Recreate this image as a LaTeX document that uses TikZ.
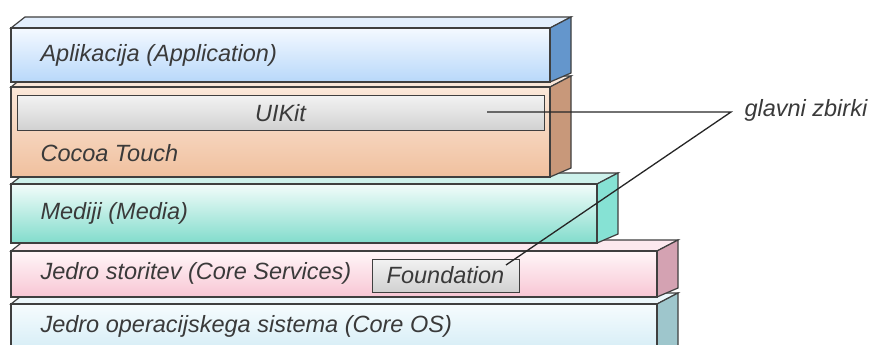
\documentclass[tikz,border=0pt]{standalone}
\usepackage{fontspec}
\setmainfont{Liberation Sans}
\usetikzlibrary{calc}
\definecolor{edgegray}{HTML}{3F3F3F}
\definecolor{textgray}{HTML}{3A3A3A}
\definecolor{appLight}{HTML}{F4F9FF}
\definecolor{appDark}{HTML}{B8D8FA}
\definecolor{appSide}{HTML}{6496CC}
\definecolor{cocoaLight}{HTML}{FBE8DA}
\definecolor{cocoaDark}{HTML}{F0C09E}
\definecolor{cocoaSide}{HTML}{C8987A}
\definecolor{mediaLight}{HTML}{F2FCFA}
\definecolor{mediaDark}{HTML}{82DCCC}
\definecolor{mediaSide}{HTML}{86E2D4}
\definecolor{servLight}{HTML}{FFF6F8}
\definecolor{servDark}{HTML}{F8C6D4}
\definecolor{servSide}{HTML}{D4A2B2}
\definecolor{osLight}{HTML}{F6FCFE}
\definecolor{osDark}{HTML}{CFEAF4}
\definecolor{osSide}{HTML}{9EC6CC}
% one slab of the stack: (front top : front bottom : front right)[light][dark][side]
\def\slab(#1:#2:#3)[#4][#5][#6]{%
  \draw[line width=1.2pt, draw=edgegray, fill=#5!40!white] (11,#1) -- (25,{#1-11}) -- ({#3+21},{#1-11}) -- (#3,#1) -- cycle;
  \draw[line width=1.2pt, draw=edgegray, fill=#6] (#3,#1) -- ({#3+21},{#1-11}) -- ({#3+21},{#2-9}) -- (#3,#2) -- cycle;
  \shade[line width=1.2pt, draw=edgegray, top color=#4, bottom color=#5] (11,#1) rectangle (#3,#2);
}

\begin{document}
\begin{tikzpicture}[x=1pt, y=-1pt,
    layertext/.style={anchor=west, text=textgray, font=\fontsize{23.5}{28}\selectfont\itshape},
    libbox/.style={draw=edgegray, line width=1pt, top color=white!95!black, bottom color=black!18,
      text=textgray, font=\fontsize{23.5}{28}\selectfont\itshape, inner sep=0pt},
    pointer/.style={line width=1.3pt, draw=black!85}]
		%%%%% START %%%%%
		\useasboundingbox (0,0) rectangle (876,345);
		\clip (0,0) rectangle (876,345);
		
		% bottom slab first, the upper ones sit on it
		\slab(304:360:657)[osLight][osDark][osSide]
		\slab(251:297:657)[servLight][servDark][servSide]
		\slab(184:243:597)[mediaLight][mediaDark][mediaSide]
		\slab(87:177:550)[cocoaLight][cocoaDark][cocoaSide]
		\slab(28:82:550)[appLight][appDark][appSide]
		
		\node[layertext] (app) at (37,55) {Aplikacija (Application)};
		\node[layertext] (cocoa) at (37,153) {Cocoa Touch};
		\node[layertext] (media) at (37,213) {Mediji (Media)};
		\node[layertext] (services) at (37,273) {Jedro storitev (Core Services)};
		\node[layertext] (coreos) at (37,326) {Jedro operacijskega sistema (Core OS)};
		
		\node[libbox, minimum width=527pt, minimum height=34pt] (uikit) at (280.5,113) {UIKit};
		\node[libbox, minimum width=147pt, minimum height=33pt] (foundation) at (445.5,275.5) {Foundation};
		
		\node[layertext] (collections) at (741,110) {glavni zbirki};
		
		\coordinate (hub) at (731,112);
		\coordinate (uikitpin) at (487,112);
		\coordinate (foundpin) at (506,265);
		\draw[pointer] (uikitpin) -- (hub) -- (foundpin);
		
		%%%%% END %%%%%
\end{tikzpicture}
\end{document}
